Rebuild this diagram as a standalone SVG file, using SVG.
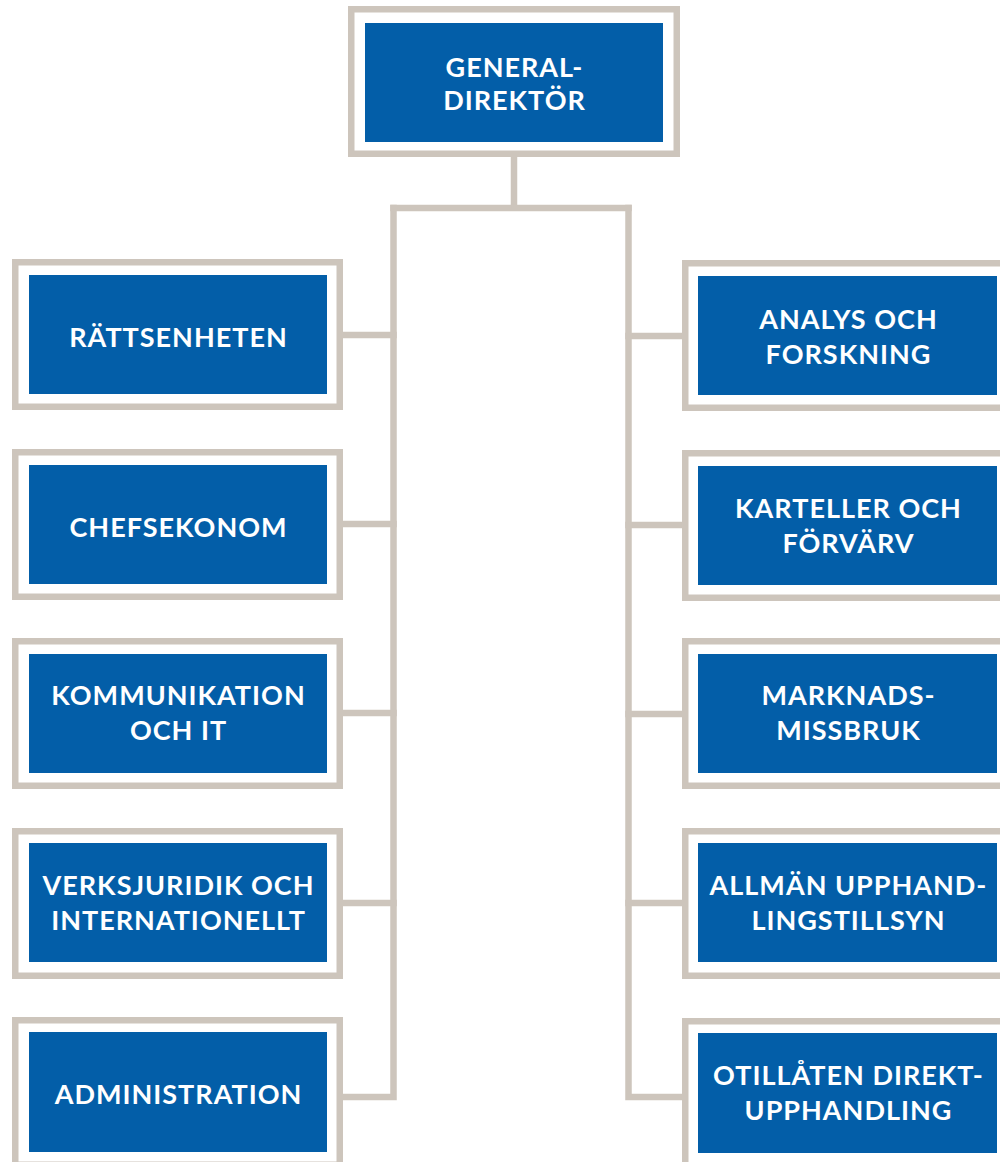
<svg xmlns="http://www.w3.org/2000/svg" width="1000" height="1162" viewBox="0 0 1000 1162">
<style>
.frame{fill:#ffffff;stroke:#cdc5bc;stroke-width:6.5}
.box{fill:#035ea8}
.lbl{font-family:Lato,"Liberation Sans",sans-serif;font-weight:bold;font-size:27px;letter-spacing:1px;fill:#ffffff;text-anchor:middle}
.conn{fill:none;stroke:#cdc5bc;stroke-width:6.5;stroke-linejoin:miter;stroke-linecap:square}
</style>
<rect width="1000" height="1162" fill="#ffffff"/>
<g id="connectors">
<path class="conn" d="M514 157 V208 M393.5 208 H628.5"/>
<path class="conn" d="M393.5 208 V1097 H346"/>
<path class="conn" d="M628.5 208 V1097 H679"/>
<path class="conn" d="M346 335 H393.5 M346 524 H393.5 M346 713 H393.5 M346 903 H393.5"/>
<path class="conn" d="M628.5 336 H679 M628.5 525 H679 M628.5 714 H679 M628.5 903 H679"/>
</g>
<g id="n-gd">
<rect class="frame" x="351.25" y="9.25" width="325.5" height="144.5"/>
<rect class="box" x="365" y="23" width="298" height="119"/>
<text class="lbl" x="514.5" y="76.5">GENERAL-</text>
<text class="lbl" x="514.5" y="109.5">DIREKTÖR</text>
</g>
<g id="n-ratt">
<rect class="frame" x="15.25" y="262.25" width="324.5" height="144.5"/>
<rect class="box" x="29" y="275" width="298" height="119"/>
<text class="lbl" x="178.5" y="347">RÄTTSENHETEN</text>
</g>
<g id="n-chef">
<rect class="frame" x="15.25" y="452.25" width="324.5" height="144.5"/>
<rect class="box" x="29" y="465" width="298" height="119"/>
<text class="lbl" x="178.5" y="536.5">CHEFSEKONOM</text>
</g>
<g id="n-komm">
<rect class="frame" x="15.25" y="641.25" width="324.5" height="144.5"/>
<rect class="box" x="29" y="654" width="298" height="119"/>
<text class="lbl" x="178.5" y="705" letter-spacing="0.6">KOMMUNIKATION</text>
<text class="lbl" x="178.5" y="740">OCH IT</text>
</g>
<g id="n-verk">
<rect class="frame" x="15.25" y="831.25" width="324.5" height="144.5"/>
<rect class="box" x="29" y="843" width="298" height="119"/>
<text class="lbl" x="178.5" y="895">VERKSJURIDIK OCH</text>
<text class="lbl" x="178.5" y="930">INTERNATIONELLT</text>
</g>
<g id="n-adm">
<rect class="frame" x="15.25" y="1020.25" width="324.5" height="144.5"/>
<rect class="box" x="29" y="1032" width="298" height="120"/>
<text class="lbl" x="178.5" y="1104">ADMINISTRATION</text>
</g>
<g id="n-anal">
<rect class="frame" x="685.25" y="263.25" width="324.5" height="144.5"/>
<rect class="box" x="698" y="276" width="299" height="119"/>
<text class="lbl" x="848.5" y="329">ANALYS OCH</text>
<text class="lbl" x="848.5" y="364">FORSKNING</text>
</g>
<g id="n-kart">
<rect class="frame" x="685.25" y="453.25" width="324.5" height="144.5"/>
<rect class="box" x="698" y="466" width="299" height="119"/>
<text class="lbl" x="848.5" y="518">KARTELLER OCH</text>
<text class="lbl" x="848.5" y="553">FÖRVÄRV</text>
</g>
<g id="n-mark">
<rect class="frame" x="685.25" y="641.25" width="324.5" height="144.5"/>
<rect class="box" x="698" y="654" width="299" height="119"/>
<text class="lbl" x="848.5" y="705">MARKNADS-</text>
<text class="lbl" x="848.5" y="740">MISSBRUK</text>
</g>
<g id="n-allm">
<rect class="frame" x="685.25" y="831.25" width="324.5" height="144.5"/>
<rect class="box" x="698" y="843" width="299" height="119"/>
<text class="lbl" x="848.5" y="895">ALLMÄN UPPHAND-</text>
<text class="lbl" x="848.5" y="930">LINGSTILLSYN</text>
</g>
<g id="n-otil">
<rect class="frame" x="685.25" y="1021.25" width="324.5" height="144.5"/>
<rect class="box" x="698" y="1033" width="299" height="120"/>
<text class="lbl" x="848.5" y="1085">OTILLÅTEN DIREKT-</text>
<text class="lbl" x="848.5" y="1120">UPPHANDLING</text>
</g>
</svg>
